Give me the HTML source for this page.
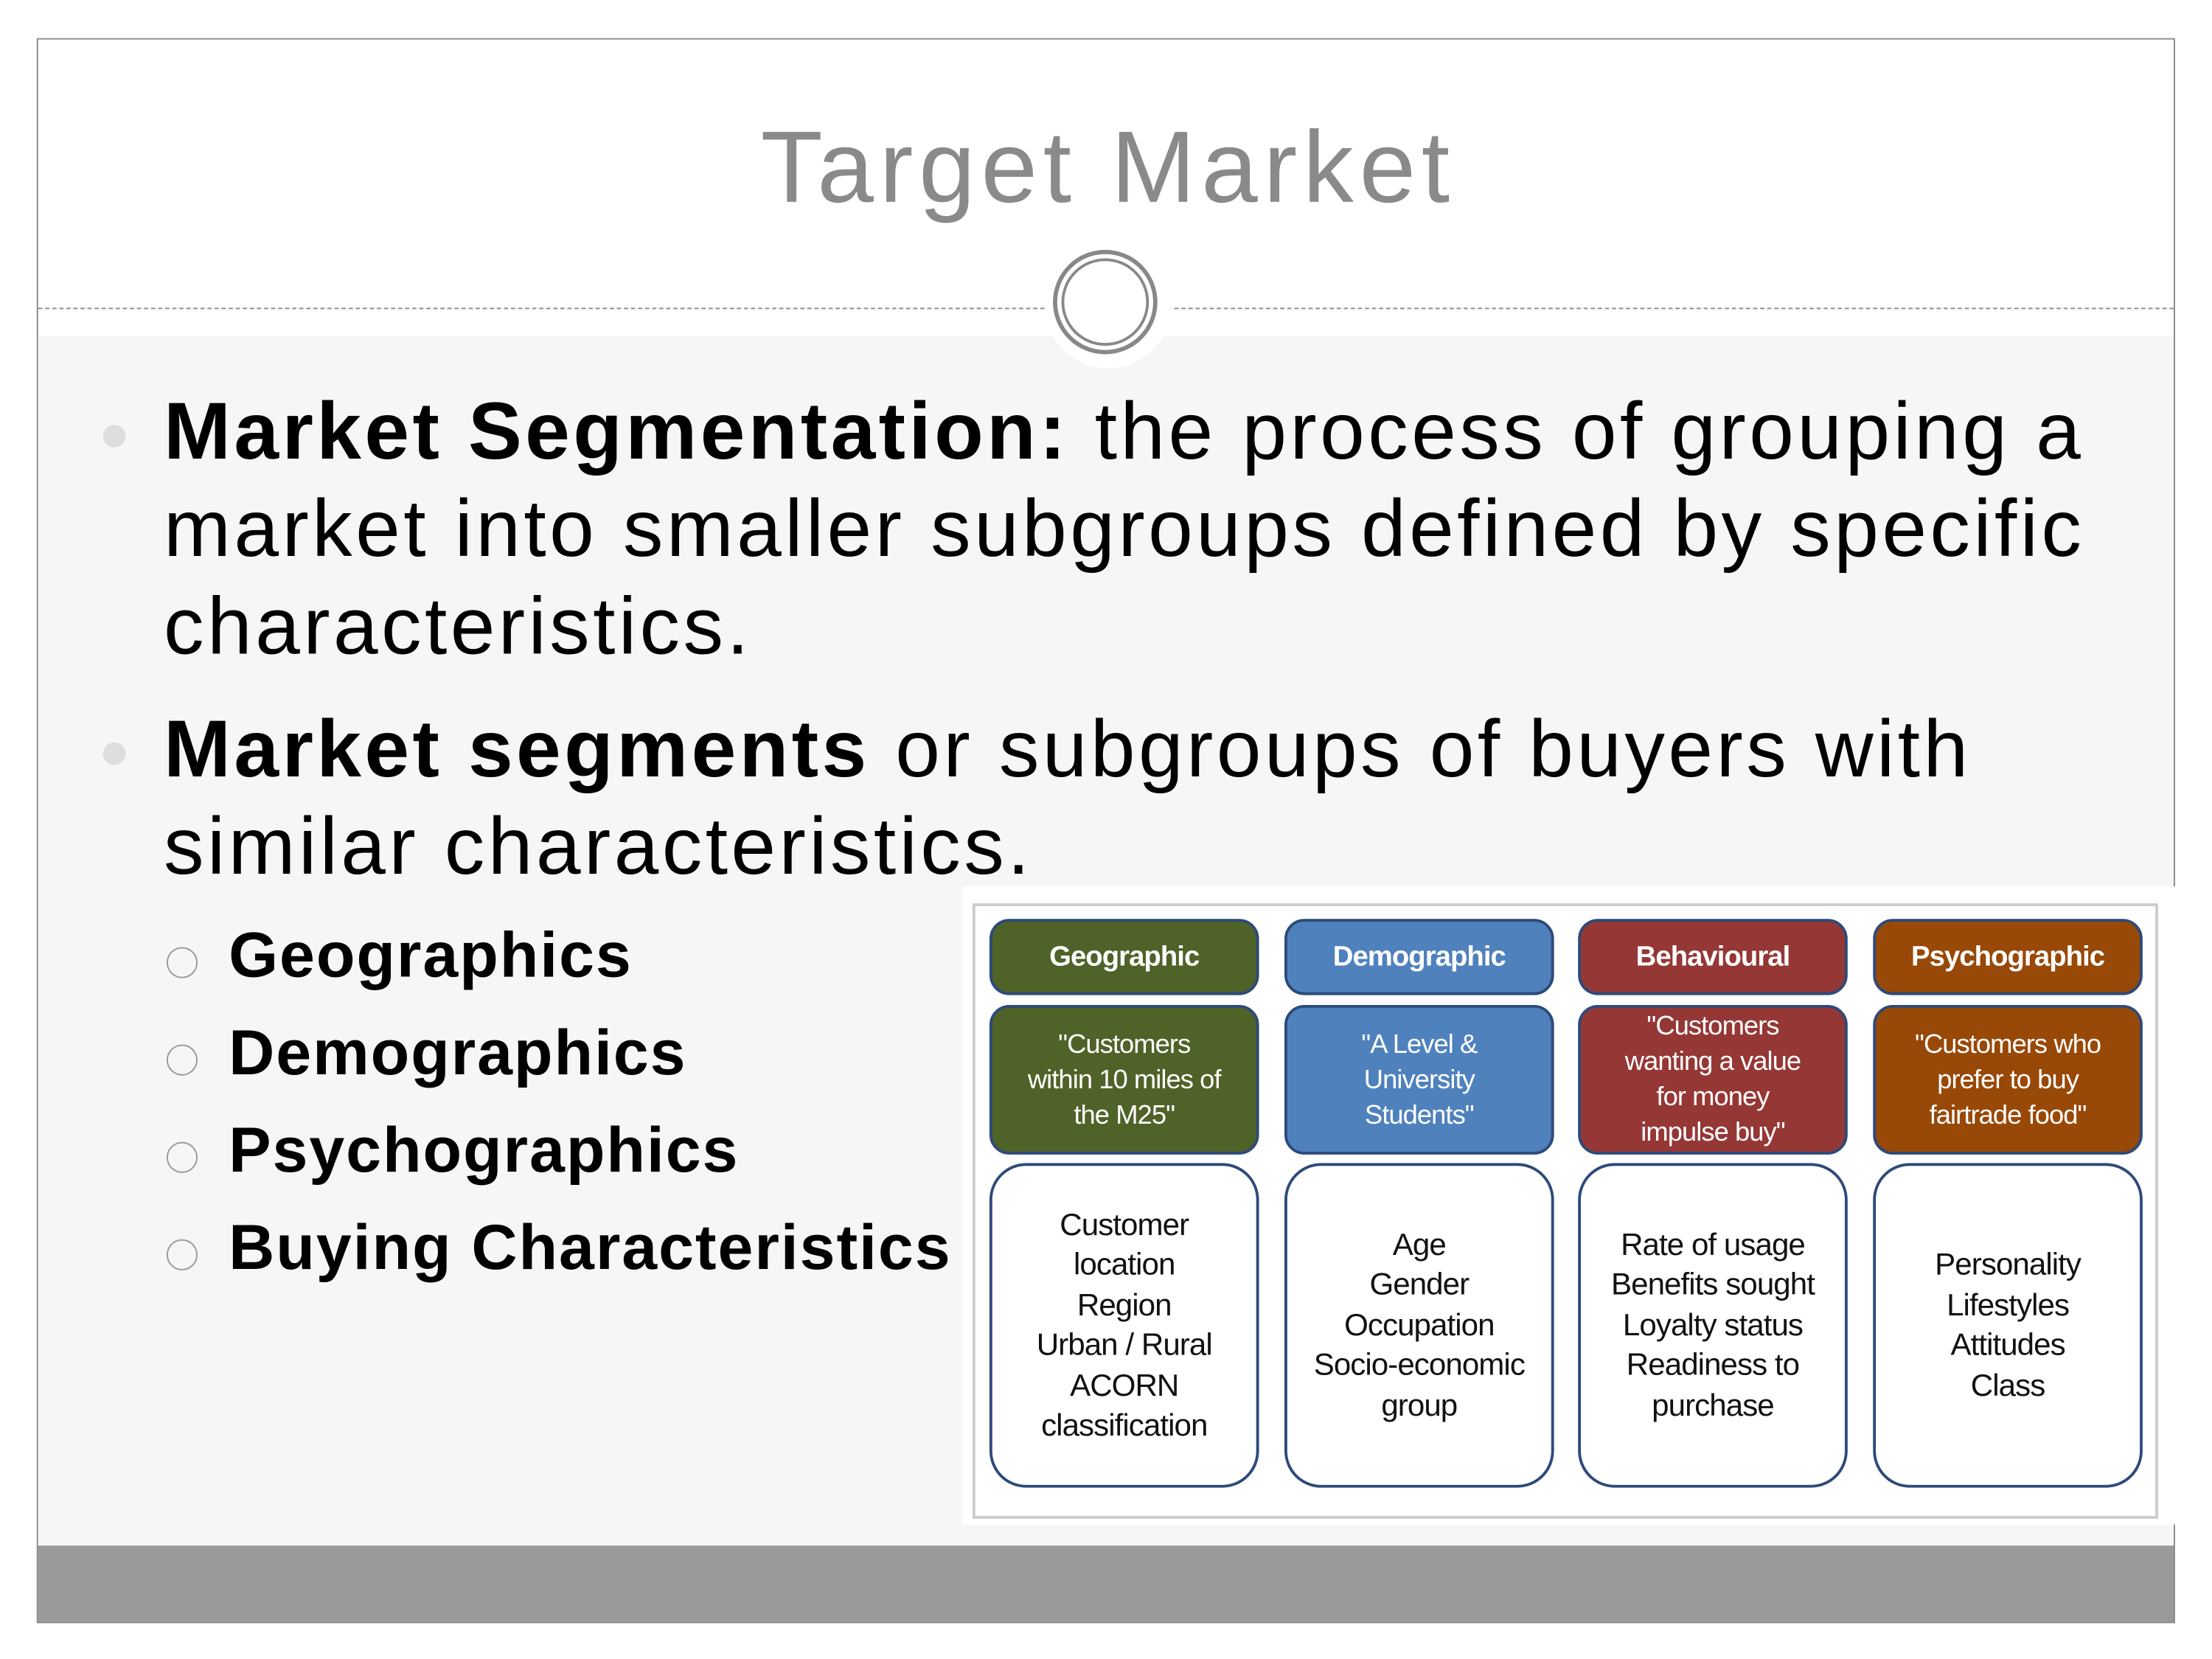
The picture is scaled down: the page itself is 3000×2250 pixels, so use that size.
<!DOCTYPE html>
<html><head><meta charset="utf-8"><style>
html,body{margin:0;padding:0;width:3000px;height:2250px;overflow:hidden;background:#fff}
#s{position:absolute;left:0;top:0;width:1567px;height:1175px;transform:scale(1.9143);transform-origin:0 0;font-family:"Liberation Sans",sans-serif}
.a{position:absolute}
.t{white-space:nowrap;color:#000}
.c{position:absolute;border:2px solid #2d4a7a;border-radius:14px;box-sizing:border-box;display:flex;align-items:center;justify-content:center;text-align:center;font-family:"Liberation Sans",sans-serif;letter-spacing:-0.5px}
.h{color:#fff;font-weight:bold;font-size:20px}
.m{color:#fff;font-size:19px;line-height:25px}
.b{background:#fff;border-radius:26px;font-size:22px;line-height:28.5px;color:#111}
</style></head><body><div id="s">
<div class="a" style="left:26px;top:27px;width:1515px;height:1123px;border:1px solid #888;box-sizing:border-box"></div>
<div class="a" style="left:27px;top:238px;width:1513px;height:857px;background:#f6f6f6"></div>
<div class="a" style="left:27px;top:1095px;width:1513px;height:54px;background:#9a9a9a"></div>
<div class="a" style="left:27px;top:218px;width:1513px;border-top:1px dashed #888"></div>
<div class="a" style="left:740px;top:171px;width:90px;height:90px;border-radius:50%;background:#fff"></div>
<div class="a" style="left:746px;top:177px;width:74px;height:74px;border-radius:50%;border:3px solid #888;box-sizing:border-box"></div>
<div class="a" style="left:752px;top:183px;width:62px;height:62px;border-radius:50%;border:2px solid #888;box-sizing:border-box"></div>
<div class="a t" style="left:0;width:1570px;text-align:center;top:78px;font-size:72px;color:#8a8a8a;letter-spacing:4px">Target Market</div>
<div class="a" style="left:73px;top:301px;width:16px;height:16px;border-radius:50%;background:#ddd"></div>
<div class="a" style="left:73px;top:526px;width:16px;height:16px;border-radius:50%;background:#ddd"></div>
<div class="a t" style="left:116px;top:272px;font-size:57px;line-height:69px;white-space:normal;width:1440px;letter-spacing:2.3px"><b>Market Segmentation:</b> the process of grouping a market into smaller subgroups defined by specific characteristics.</div>
<div class="a t" style="left:116px;top:497px;font-size:57px;line-height:69px;white-space:normal;width:1320px;letter-spacing:2.3px"><b>Market segments</b> or subgroups of buyers with similar characteristics.</div>
<div class="a" style="left:118px;top:671px;width:22px;height:22px;border-radius:50%;border:1.5px solid #999;box-sizing:border-box"></div>
<div class="a" style="left:118px;top:740px;width:22px;height:22px;border-radius:50%;border:1.5px solid #999;box-sizing:border-box"></div>
<div class="a" style="left:118px;top:809px;width:22px;height:22px;border-radius:50%;border:1.5px solid #999;box-sizing:border-box"></div>
<div class="a" style="left:118px;top:878px;width:22px;height:22px;border-radius:50%;border:1.5px solid #999;box-sizing:border-box"></div>
<div class="a t" style="left:162px;top:642px;font-size:45px;line-height:69px;font-weight:bold;letter-spacing:1px">Geographics<br>Demographics<br>Psychographics<br>Buying Characteristics</div>
<div class="a" style="left:682px;top:628px;width:860px;height:452px;background:#fff"></div>
<div class="a" style="left:689px;top:640px;width:840px;height:436px;border:2px solid #ccc;box-sizing:border-box"></div>
<div class="c h" style="left:701px;top:651px;width:191px;height:54px;background:#4f6228">Geographic</div>
<div class="c h" style="left:910px;top:651px;width:191px;height:54px;background:#4f81bd">Demographic</div>
<div class="c h" style="left:1118px;top:651px;width:191px;height:54px;background:#953735">Behavioural</div>
<div class="c h" style="left:1327px;top:651px;width:191px;height:54px;background:#984807">Psychographic</div>
<div class="c m" style="left:701px;top:712px;width:191px;height:106px;background:#4f6228">"Customers<br>within 10 miles of<br>the M25"</div>
<div class="c m" style="left:910px;top:712px;width:191px;height:106px;background:#4f81bd">"A Level &amp;<br>University<br>Students"</div>
<div class="c m" style="left:1118px;top:712px;width:191px;height:106px;background:#953735">"Customers<br>wanting a value<br>for money<br>impulse buy"</div>
<div class="c m" style="left:1327px;top:712px;width:191px;height:106px;background:#984807">"Customers who<br>prefer to buy<br>fairtrade food"</div>
<div class="c b" style="left:701px;top:824px;width:191px;height:230px">Customer<br>location<br>Region<br>Urban / Rural<br>ACORN<br>classification</div>
<div class="c b" style="left:910px;top:824px;width:191px;height:230px">Age<br>Gender<br>Occupation<br>Socio-economic<br>group</div>
<div class="c b" style="left:1118px;top:824px;width:191px;height:230px">Rate of usage<br>Benefits sought<br>Loyalty status<br>Readiness to<br>purchase</div>
<div class="c b" style="left:1327px;top:824px;width:191px;height:230px">Personality<br>Lifestyles<br>Attitudes<br>Class</div>
</div></body></html>
